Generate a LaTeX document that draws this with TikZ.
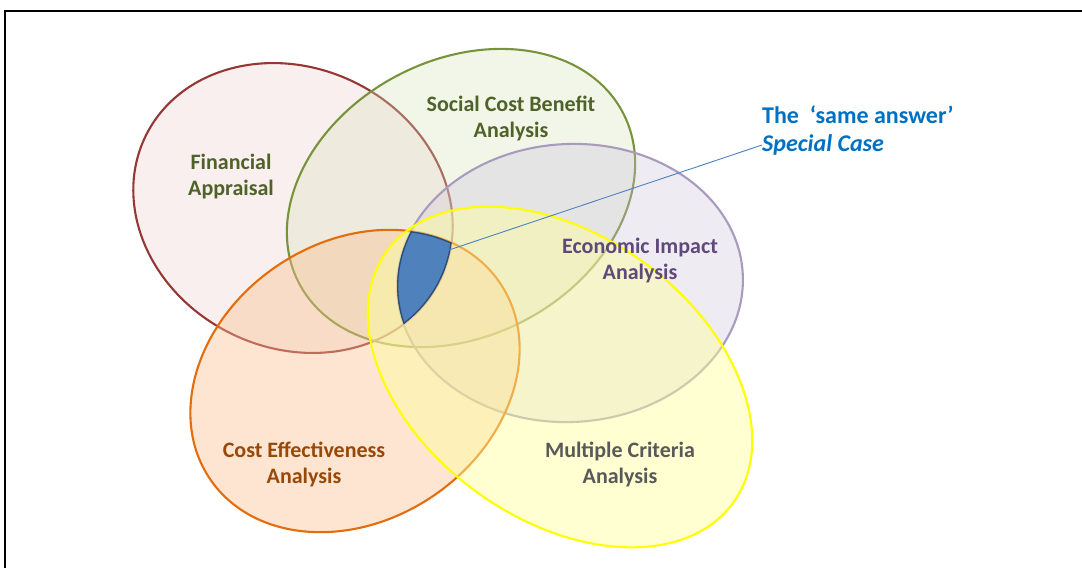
\documentclass[tikz,border=0pt]{standalone}
\usepackage{fontspec}
\setmainfont{Carlito}
\begin{document}
\begin{tikzpicture}[x=1pt,y=-1pt,
  lbl/.style={font=\bfseries\fontsize{22}{26}\selectfont, align=center, inner sep=0pt},
  blu/.style={font=\bfseries\fontsize{24}{30}\selectfont, text=cBlueT, anchor=west, inner sep=0pt},
  venn/.style={line width=2.1pt}
]
\definecolor{cFAs}{HTML}{953735}
\definecolor{cFAf}{HTML}{F2DCDB}
\definecolor{cSCs}{HTML}{77933C}
\definecolor{cSCf}{HTML}{D7E4BD}
\definecolor{cEIs}{HTML}{A99BBD}
\definecolor{cEIf}{HTML}{CCC1DA}
\definecolor{cCEs}{HTML}{E46C0A}
\definecolor{cCEf}{HTML}{FAC090}
\definecolor{cMCs}{HTML}{FFFF00}
\definecolor{cMCf}{HTML}{FFFF99}
\definecolor{cBlue}{HTML}{4F81BD}
\definecolor{cBlueD}{HTML}{2C4D75}
\definecolor{cBlueT}{HTML}{0070C0}
\definecolor{tFA}{HTML}{4F6228}
\definecolor{tEI}{HTML}{5F497A}
\definecolor{tCE}{HTML}{984807}
\definecolor{tMC}{HTML}{595959}

\useasboundingbox (0,0) rectangle (1082,568);
\fill[white] (0,0) rectangle (1082,568);

% ellipses
\def\eFA{(293,208) ellipse [x radius=164, y radius=140, rotate=-26]}
\def\eSC{(461,198) ellipse [x radius=183, y radius=138, rotate=28]}
\def\eEI{(570,283) ellipse [x radius=173, y radius=139, rotate=3]}
\def\eCE{(355,381) ellipse [x radius=175, y radius=139, rotate=34]}
\def\eMC{(560,377) ellipse [x radius=214, y radius=142, rotate=-36]}

\path[venn, draw=cFAs, fill=cFAf, fill opacity=0.45] \eFA;
\path[venn, draw=cSCs, fill=cSCf, fill opacity=0.32] \eSC;
\path[venn, draw=cEIs, fill=cEIf, fill opacity=0.32] \eEI;
\path[venn, draw=cCEs, fill=cCEf, fill opacity=0.4] \eCE;
\path[venn, draw=cMCs, fill=cMCf, fill opacity=0.45] \eMC;

% special case region = intersection of all five
\begin{scope}
  \clip \eFA; \clip \eSC; \clip \eEI; \clip \eCE; \clip \eMC;
  \fill[cBlue] (0,0) rectangle (1082,568);
  \draw[cBlueD, line width=2.6pt] \eFA;
  \draw[cBlueD, line width=2.6pt] \eSC;
  \draw[cBlueD, line width=2.6pt] \eEI;
  \draw[cBlueD, line width=2.6pt] \eCE;
  \draw[cBlueD, line width=2.6pt] \eMC;
\end{scope}

% labels
\node[lbl, text=tFA] (fa) at (231,177) {Financial\\Appraisal};
\node[lbl, text=tFA] (sc) at (511,118) {Social Cost Benefit\\Analysis};
\node[lbl, text=tEI] (ei) at (640,261) {Economic Impact\\Analysis};
\node[lbl, text=tCE] (ce) at (304,464) {Cost Effectiveness\\Analysis};
\node[lbl, text=tMC] (mc) at (620,464) {Multiple Criteria\\Analysis};

\node[blu] (same) at (762,115) {The\ \ ‘same answer’};
\node[blu, font=\bfseries\itshape\fontsize{24}{30}\selectfont] (spec) at (762,145) {Special Case};

\coordinate (corner) at (449,250);
\draw[cBlue, line width=0.9pt] (corner) -- (spec.west);

% frame
\draw[black, line width=2pt] (5,568) -- (5,11) -- (1082,11);
\end{tikzpicture}
\end{document}
